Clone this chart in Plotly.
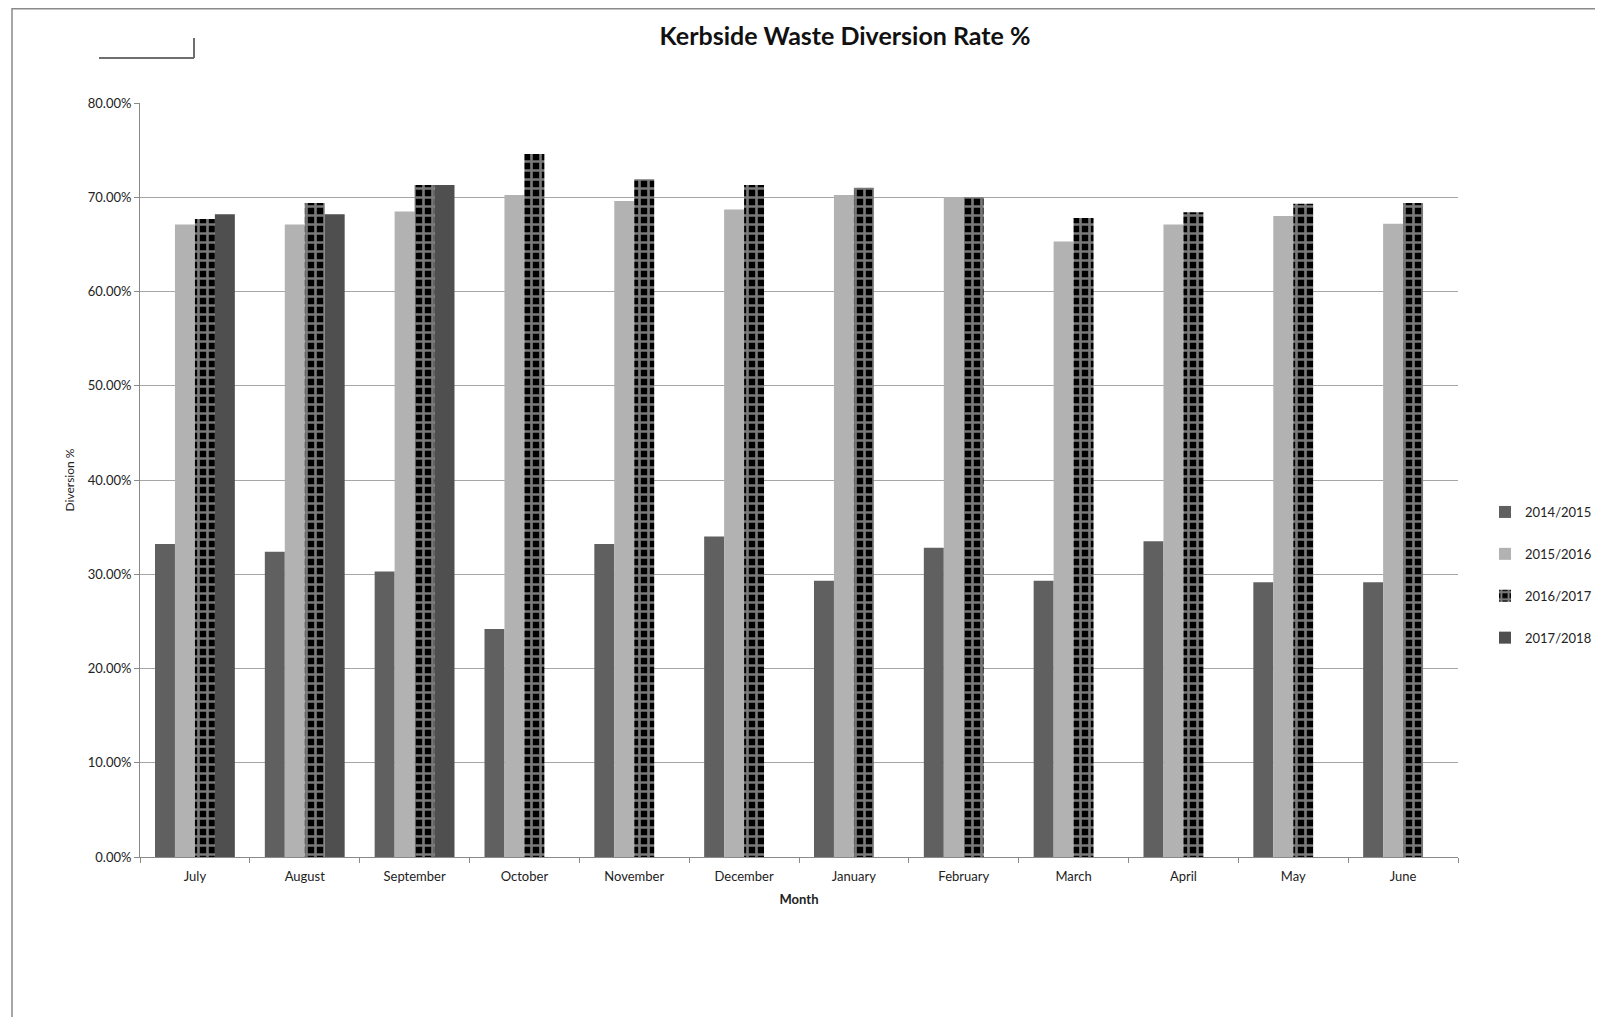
import plotly.graph_objects as go

months = ["July", "August", "September", "October", "November", "December",
          "January", "February", "March", "April", "May", "June"]
s2014 = [33.2, 32.4, 30.3, 24.2, 33.2, 34.0, 29.3, 32.8, 29.3, 33.5, 29.15, 29.15]
s2015 = [67.1, 67.1, 68.5, 70.25, 69.6, 68.7, 70.25, 70.0, 65.3, 67.1, 68.0, 67.2]
s2016 = [67.7, 69.4, 71.3, 74.6, 71.9, 71.3, 71.0, 70.0, 67.8, 68.4, 69.3, 69.4]
s2017 = [68.2, 68.2, 71.3, None, None, None, None, None, None, None, None, None]
series_names = ["2014/2015", "2015/2016", "2016/2017", "2017/2018"]
y_ticks = [0, 10, 20, 30, 40, 50, 60, 70, 80]
y_ticktext = [f"{v:.2f}%" for v in y_ticks]

FONT = "Lato, 'Open Sans', Arial, sans-serif"

fig = go.Figure()
fig.add_trace(go.Bar(name=series_names[0], x=months, y=s2014, legendgroup="a",
                     marker=dict(color="#606060", line=dict(width=0))))
fig.add_trace(go.Bar(name=series_names[1], x=months, y=s2015, legendgroup="b",
                     marker=dict(color="#b2b2b2", line=dict(width=0))))
fig.add_trace(go.Bar(name=series_names[2], x=months, y=s2016, legendgroup="c",
                     marker=dict(color="black", line=dict(width=0),
                                 pattern=dict(shape="+", fgcolor="#f2f2f2", bgcolor="black",
                                              size=9, solidity=0.5))))
fig.add_trace(go.Bar(name=series_names[3], x=months, y=s2017, legendgroup="d",
                     marker=dict(color="#4f4f4f", line=dict(width=0))))

# page body has an 8px margin, so figure coords = screen coords - 8
W, H = 1587, 1009
L, R, T, B = 132, 1450, 95, 849

def px(x):
    return (x - L) / (R - L)

def py(y):
    return (B - y) / (B - T)

shapes = [
    dict(type="line", xref="paper", yref="paper", x0=px(4), x1=px(4), y0=py(0), y1=py(1030),
         line=dict(color="#8a8a8a", width=1.5)),
    dict(type="line", xref="paper", yref="paper", x0=px(4), x1=px(1600), y0=py(0.8), y1=py(0.8),
         line=dict(color="#8a8a8a", width=1.5)),
    dict(type="line", xref="paper", yref="paper", x0=px(91), x1=px(186), y0=py(50), y1=py(50),
         line=dict(color="#6e6e6e", width=2)),
    dict(type="line", xref="paper", yref="paper", x0=px(186), x1=px(186), y0=py(30), y1=py(50),
         line=dict(color="#6e6e6e", width=2)),
]

fig.update_layout(
    width=W, height=H,
    margin=dict(l=L, r=W - R, t=T, b=H - B, autoexpand=False),
    paper_bgcolor="white", plot_bgcolor="white",
    barmode="group", bargap=0.273, bargroupgap=0,
    font=dict(family=FONT, size=13, color="#222"),
    title=dict(text="<b>Kerbside Waste Diversion Rate %</b>", x=837 / W, xanchor="center",
               y=1 - 28 / H, yanchor="middle", font=dict(family=FONT, size=25, color="#111")),
    xaxis=dict(title=dict(text="<b>Month</b>", standoff=12, font=dict(size=13)),
               showline=True, linecolor="#8a8a8a", linewidth=1,
               ticks="outside", tickson="boundaries", ticklen=5, tickcolor="#8a8a8a",
               ticklabelstandoff=7,
               tickfont=dict(size=13), showgrid=False),
    yaxis=dict(title=dict(text="Diversion %", standoff=10, font=dict(size=12)),
               range=[0, 80], tickmode="array", tickvals=y_ticks, ticktext=y_ticktext,
               showline=True, linecolor="#8a8a8a", linewidth=1,
               ticks="outside", ticklen=5, tickcolor="#8a8a8a",
               showgrid=True, gridcolor="#a6a6a6", gridwidth=1, zeroline=False,
               tickfont=dict(size=13)),
    legend=dict(x=px(1477), xanchor="left", y=py(567), yanchor="middle",
                font=dict(size=13), tracegroupgap=22, traceorder="grouped",
                itemwidth=30),
    shapes=shapes,
)

fig.write_html("out.html")
